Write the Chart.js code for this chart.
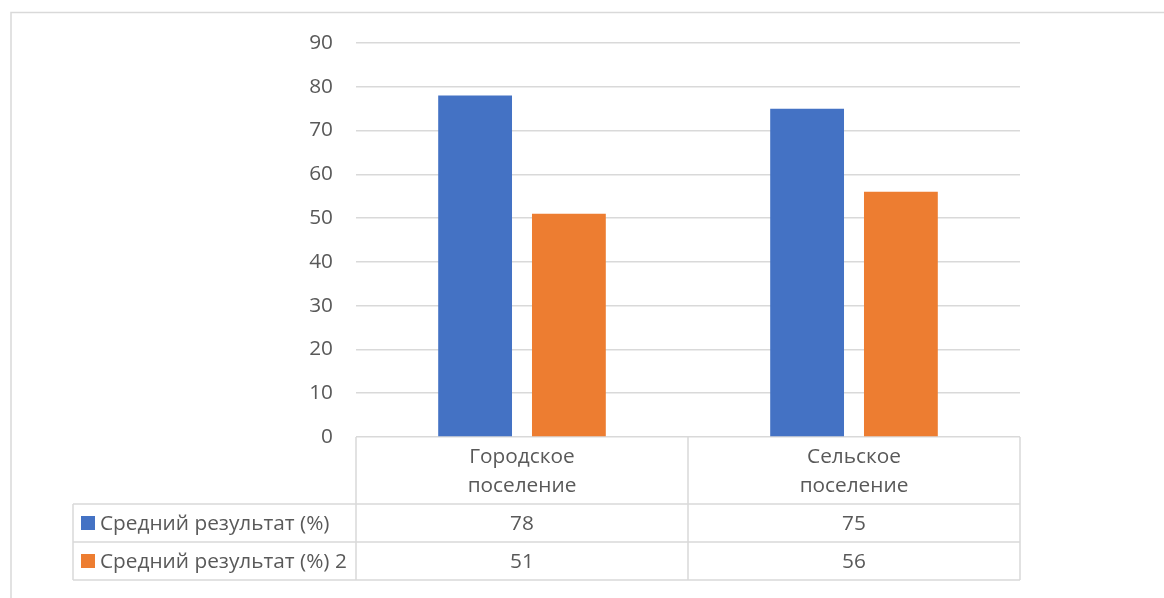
<!DOCTYPE html>
<html>
<head>
<meta charset="utf-8">
<script src="https://cdn.jsdelivr.net/npm/chart.js@4.4.1/dist/chart.umd.min.js"></script>
<style>
    html, body { margin: 0; padding: 0; background: #ffffff; }
    #wrap { width: 1164px; height: 598px; position: relative; }
</style>
</head>
<body>
<div id="wrap"><canvas id="graph" width="1164" height="598"></canvas></div>
<script>
"use strict"

// *** DATI *** //
const categories = [["Городское", "поселение"], ["Сельское", "поселение"]];
const seriesNames = ["Средний результат (%)", "Средний результат (%) 2"];
const series1 = [78, 75];
const series2 = [51, 56];
const yMin = 0, yMax = 90, yStep = 10;

const colors = ["#4472c4", "#ed7d31"];
const lineColor = "#d9d9d9";
const textColor = "#595959";
const fontFamily = "'Open Sans', 'Noto Sans', sans-serif";
const fontSize = 20.8;

// *** TABELLA DATI SOTTO IL GRAFICO *** //
const dataTable = {
    id: "dataTable",
    afterDraw(chart) {
        let ctx = chart.ctx;
        let area = chart.chartArea;
        let x = chart.scales.x;
        let allSeries = [series1, series2];

        let headerBottom = area.bottom + 67;
        let rowH = 38;
        let tableLeft = 73;
        let bottom = headerBottom + rowH * 2;

        ctx.save();
        ctx.strokeStyle = lineColor;
        ctx.lineWidth = 1.5;

        // cornice esterna (solo alto e sinistra)
        ctx.beginPath();
        ctx.moveTo(11, chart.height);
        ctx.lineTo(11, 12.5);
        ctx.lineTo(chart.width, 12.5);
        ctx.stroke();

        // linee verticali delle colonne
        ctx.beginPath();
        let step = categories.length > 1 ? x.getPixelForValue(1) - x.getPixelForValue(0) : area.width;
        let bounds = [area.left];
        for (let i = 0; i < categories.length; i++)
            bounds.push(x.getPixelForValue(i) + step / 2);
        bounds[bounds.length - 1] = area.right;
        for (let b of bounds) {
            ctx.moveTo(b, area.bottom);
            ctx.lineTo(b, bottom);
        }
        ctx.moveTo(tableLeft, headerBottom);
        ctx.lineTo(tableLeft, bottom);

        // linee orizzontali
        for (let r = 0; r <= 2; r++) {
            let y = headerBottom + rowH * r;
            ctx.moveTo(tableLeft, y);
            ctx.lineTo(area.right, y);
        }
        ctx.stroke();

        // testi
        ctx.fillStyle = textColor;
        ctx.font = fontSize + "px " + fontFamily;
        ctx.textAlign = "center";
        ctx.textBaseline = "middle";
        for (let i = 0; i < categories.length; i++) {
            let cx = x.getPixelForValue(i);
            ctx.fillText(categories[i][0], cx, area.bottom + 20);
            ctx.fillText(categories[i][1], cx, area.bottom + 49);
            for (let s = 0; s < allSeries.length; s++)
                ctx.fillText(String(allSeries[s][i]), cx, headerBottom + rowH * s + rowH / 2 + 1);
        }

        // legenda nella tabella
        ctx.textAlign = "left";
        for (let s = 0; s < seriesNames.length; s++) {
            let cy = headerBottom + rowH * s + rowH / 2;
            ctx.fillStyle = colors[s];
            ctx.fillRect(81, cy - 7, 14, 14);
            ctx.fillStyle = textColor;
            ctx.fillText(seriesNames[s], 100, cy + 1);
        }
        ctx.restore();
    }
};

let _canvas = document.getElementById("graph");
let chart = new Chart(_canvas, {
    type: "bar",
    data: {
        labels: categories,
        datasets: [
            {
                label: seriesNames[0],
                data: series1,
                backgroundColor: colors[0],
                categoryPercentage: 0.565,
                barPercentage: 0.787
            },
            {
                label: seriesNames[1],
                data: series2,
                backgroundColor: colors[1],
                categoryPercentage: 0.565,
                barPercentage: 0.787
            }
        ]
    },
    options: {
        responsive: false,
        animation: false,
        layout: { padding: { left: 0, right: 144, top: 43, bottom: 161 } },
        plugins: {
            legend: { display: false },
            tooltip: { enabled: false }
        },
        scales: {
            x: { display: false },
            y: {
                min: yMin,
                max: yMax,
                ticks: {
                    stepSize: yStep,
                    color: textColor,
                    padding: 23,
                    font: { family: fontFamily, size: fontSize }
                },
                grid: { color: lineColor, lineWidth: 1.5, drawTicks: false },
                border: { display: false },
                afterFit(scale) { scale.width = 356; }
            }
        }
    },
    plugins: [dataTable]
});
</script>
</body>
</html>
